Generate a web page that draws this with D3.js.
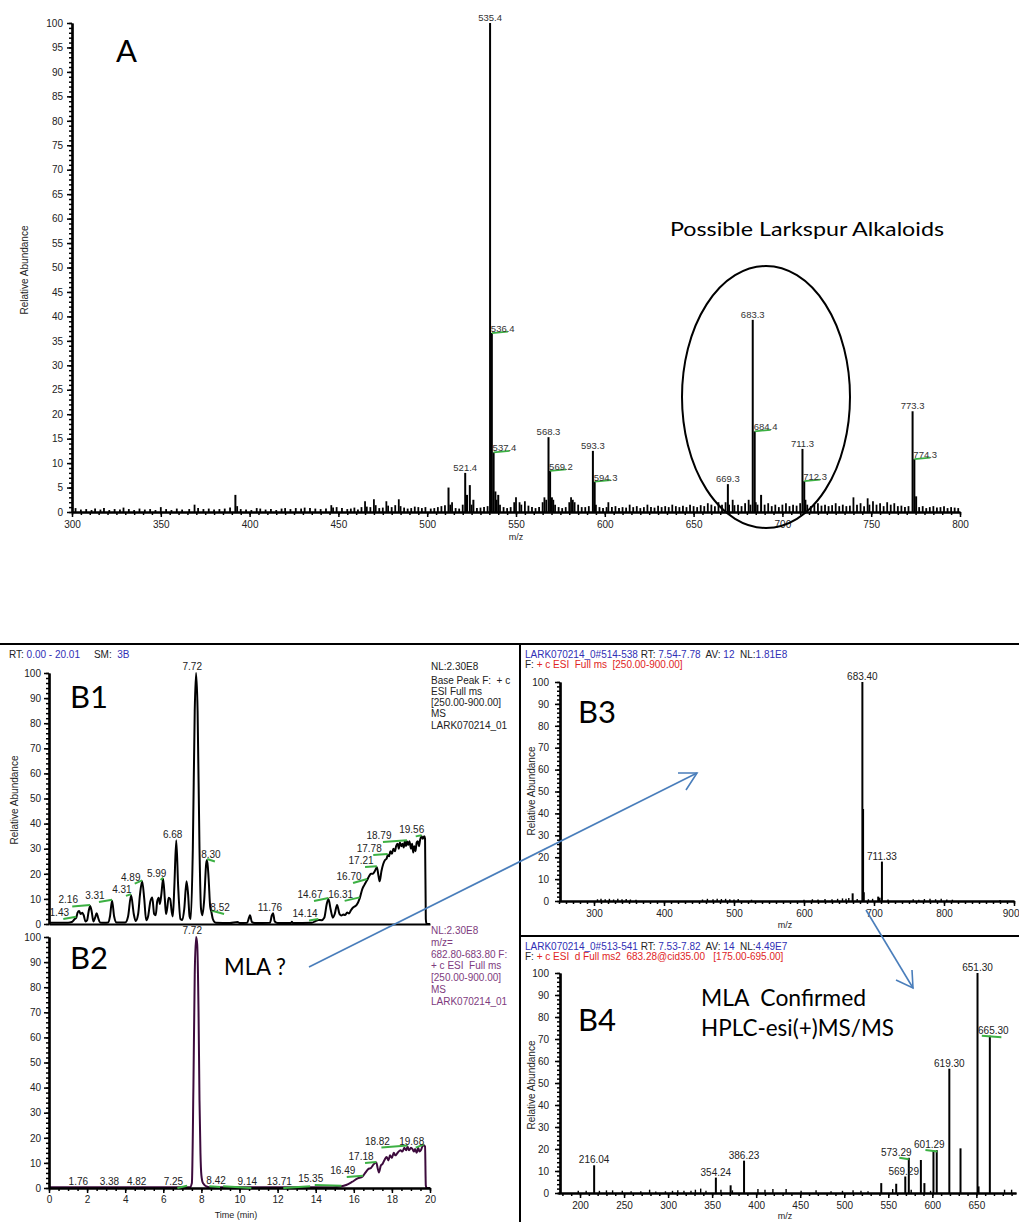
<!DOCTYPE html>
<html>
<head>
<meta charset="utf-8">
<script src="https://cdn.jsdelivr.net/npm/d3@7"></script>
<style>
  body { margin: 0; background: #fff; }
  svg { display: block; }
  text { font-family: "Liberation Sans", Arial, sans-serif; }
</style>
</head>
<body>
<div id="chart"></div>
<script>
// ---------- Panel A : full scan spectrum ----------
// main peaks [m/z, relative abundance]
const peaksA = [
  [521.4, 8], [535.4, 100], [536.4, 36.6], [537.4, 12.2], [538.4, 4.2],
  [512, 5], [522.4, 3.5], [524, 5.5], [526, 2.5], [540, 3.5], [539, 2.5],
  [568.3, 15.3], [569.2, 8.4], [570.2, 3], [593.3, 12.5], [594.3, 6.2],
  [669.3, 5.7], [683.3, 39.3], [684.4, 16.5], [688, 3.5],
  [711.3, 12.9], [712.3, 6.3], [773.3, 20.6], [774.3, 10.8], [775.3, 3.2], [392, 3.5]
];
// baseline noise sticks
const noiseA = [
  [302,0.8],[305,0.5],[308,0.6],[311,0.4],[313,0.7],[316,0.5],[318,0.8],[321,0.4],[324,0.6],[327,0.5],
  [329,0.9],[332,0.6],[335,0.4],[338,0.7],[341,0.5],[344,0.6],[347,0.4],[350,1.0],[353,0.6],[356,0.4],
  [359,0.7],[362,0.5],[366,0.6],[369,1.5],[371,0.8],[374,0.6],[377,0.7],[380,0.5],[383,0.6],[386,0.7],
  [389,0.9],[393,1.2],[395,0.6],[398,0.5],[401,0.4],[404,0.8],[406,0.7],[409,0.5],[412,0.6],[415,0.4],
  [418,0.7],[420,0.8],[423,0.6],[426,0.8],[429,0.7],[431,0.9],[434,0.8],[437,0.7],[440,0.6],[443,0.7],
  [446,1.4],[447,0.9],[449,1.0],[452,0.8],[455,0.6],[457,0.7],[459,0.9],[461,0.5],[463,1.0],[465,2.2],
  [466,1.1],[468,1.0],[470,2.6],[471,1.4],[473,0.8],[475,0.9],[477,2.2],[478,1.3],[480,1.0],[482,1.4],
  [484,2.6],[485,1.2],[487,0.9],[489,0.7],[491,0.8],[493,1.1],[495,1.0],[497,0.8],[499,1.0],[502,0.7],
  [504,0.8],[506,1.0],[508,1.2],[510,1.4],[513,1.5],[514,2.0],[516,0.8],[518,0.7],[520,1.5],[525,1.5],
  [528,0.8],[530,0.9],[532,1.0],[534,1.2],[541,1.5],[543,1.0],[545,0.8],[547,1.0],[549,2.0],[550,3.0],
  [552,2.0],[553,1.5],[555,2.2],[557,1.3],[559,1.0],[561,0.8],[563,1.0],[565,2.0],[566,3.0],[567,2.5],
  [571,2.5],[572,1.5],[574,1.0],[576,0.8],[578,1.0],[580,2.0],[581,3.0],[582,2.5],[583,2.0],[585,1.5],
  [587,1.0],[589,1.0],[591,1.2],[595,1.5],[597,1.0],[599,0.8],[601,1.0],[602,2.0],[604,1.0],[606,1.2],
  [608,0.8],[610,1.0],[612,0.9],[614,1.5],[616,1.0],[618,1.2],[620,0.8],[622,1.0],[624,1.5],[626,1.0],
  [628,0.9],[630,1.3],[632,1.0],[634,1.2],[636,1.0],[638,1.5],[640,1.2],[642,1.0],[644,1.3],[646,1.0],
  [648,1.5],[650,1.2],[652,1.0],[654,1.4],[656,1.2],[658,1.8],[660,1.5],[662,1.2],[664,2.0],[666,1.5],
  [668,2.0],[670,1.5],[672,2.5],[673,1.4],[675,1.5],[677,1.2],[679,1.8],[681,2.5],[682,1.5],[685,2.0],
  [686,1.5],[690,1.5],[692,1.8],[694,1.2],[696,1.5],[698,1.0],[700,1.5],[702,1.8],[704,1.2],[706,1.5],
  [708,1.3],[710,1.8],[713,2.5],[714,1.5],[716,1.2],[718,1.5],[720,1.8],[722,1.3],[724,1.5],[726,1.2],
  [728,1.4],[730,1.8],[732,1.2],[734,1.5],[736,1.2],[738,1.3],[740,3.0],[742,1.5],[744,1.8],[746,1.2],
  [748,2.8],[749,1.5],[751,2.2],[753,1.5],[755,1.8],[757,1.2],[759,2.0],[761,1.5],[763,1.8],[765,1.2],
  [767,1.3],[769,1.0],[771,1.2],[777,1.0],[779,1.2],[781,0.8],[783,1.0],[785,1.2],[787,0.9],[789,1.0],
  [791,1.2],[793,0.8],[795,1.0],[797,0.9],[799,0.8]
];
// labels: [m/z, abundance, placement]
const labelsA = [
  [535.4, 100, "top"], [521.4, 8, "top"], [568.3, 15.3, "top"], [593.3, 12.5, "top"],
  [669.3, 5.7, "top"], [683.3, 39.3, "top"], [711.3, 12.9, "top"], [773.3, 20.6, "top"],
  [536.4, 36.6, "side"], [537.4, 12.2, "side"], [569.2, 8.4, "side"], [594.3, 6.2, "side"],
  [684.4, 16.5, "side"], [712.3, 6.3, "side"], [774.3, 10.8, "side"]
];
const ticksA_x = [300, 350, 400, 450, 500, 550, 600, 650, 700, 750, 800];

// ---------- Panel B1 : base peak chromatogram ----------
const traceB1 = [
  [0,0.5],[1.0,0.5],[1.2,0.8],[1.35,2.0],[1.43,2.5],[1.5,4.5],[1.58,5.2],[1.66,4.0],[1.75,4.5],[1.82,3.5],
  [1.92,1.0],[2.0,1.5],[2.08,5],[2.16,7.2],[2.24,5],[2.33,1.0],[2.42,2.5],[2.5,4.3],[2.58,2.5],[2.68,0.6],
  [2.9,0.5],[3.1,0.6],[3.2,3],[3.31,9.3],[3.42,3],[3.55,0.6],[4.0,0.6],[4.15,3],[4.31,11.5],[4.45,4],
  [4.55,1.2],[4.68,4],[4.78,12],[4.89,17],[5.0,10],[5.1,1.5],[5.2,3],[5.32,9],[5.42,10.6],[5.52,4],
  [5.6,3.5],[5.68,9],[5.76,10.5],[5.82,8],[5.9,12],[5.99,18],[6.08,10],[6.14,4],[6.2,6],[6.28,10.5],
  [6.36,10],[6.44,5],[6.5,3],[6.58,15],[6.68,33.4],[6.78,15],[6.9,2],[7.0,1.6],[7.1,6],[7.22,17],
  [7.3,12],[7.38,3],[7.44,2.0],[7.55,30],[7.65,85],[7.72,100],[7.8,85],[7.9,30],[7.98,6],[8.05,3.5],
  [8.15,10],[8.25,24],[8.30,25.5],[8.38,18],[8.46,7],[8.52,5],[8.6,2],[8.75,0.5],[9.5,0.4],[9.9,0.8],
  [10.0,0.4],[10.4,0.5],[10.5,2.5],[10.55,3.5],[10.65,0.8],[10.8,0.4],[11.6,0.5],[11.7,3.5],[11.76,4.3],[11.85,1],
  [12.0,0.4],[12.7,0.4],[12.75,0.9],[12.8,0.4],[13.8,0.5],[14.0,1.2],[14.14,1.6],[14.3,1.5],[14.45,2.5],[14.58,8],
  [14.67,10],[14.78,6],[14.9,2.5],[15.0,4],[15.12,7.6],[15.25,4],[15.35,3.4],[15.45,3.8],[15.55,3.6],[15.65,4.6],
  [15.75,4.2],[15.85,5.5],[15.95,6.5],[16.05,7],[16.15,7.6],[16.31,10.2],[16.45,14],[16.55,15.5],[16.70,17.5],[16.8,19],
  [16.9,20],[17.0,20],[17.1,21],[17.21,22.6],[17.3,19],[17.36,17],[17.45,21],[17.55,24],[17.64,25.5],[17.72,26],
  [17.78,27.5],[17.85,27],[17.92,29],[18.0,28],[18.08,30],[18.16,29],[18.22,31],[18.3,32],[18.36,30],[18.42,32.5],
  [18.5,31],[18.56,32],[18.62,30.5],[18.68,33],[18.74,31],[18.79,33],[18.85,31.5],[18.92,33],[19.0,30],[19.06,32],
  [19.12,28.5],[19.18,31],[19.24,29],[19.3,32.5],[19.36,33],[19.42,31],[19.48,33.5],[19.56,35],[19.62,34],[19.7,35],
  [19.74,34],[19.78,2],[19.82,0],[20.0,0]
];
// labels: [peak time, peak abundance, label time, label level, green connector]
const labelsB1 = [
  [1.43,2.5,0.54,3.2,true],[2.16,7.2,1.01,8.2,true],[3.31,9.3,2.41,10.0,true],[4.31,11.5,3.83,12.4,true],
  [4.89,17,4.29,17.3,true],[5.99,18,5.65,18.7,true],[6.68,33.4,6.49,34.3,false],[7.72,100,7.52,101.2,false],
  [8.30,25.5,8.50,26.1,true],[8.52,5,8.98,5.2,true],[11.76,4.3,11.6,5.2,false],[14.14,1.6,13.44,2.6,true],
  [14.67,10,13.70,10.4,true],[16.31,10.2,15.31,10.4,true],[16.70,17.5,15.75,17.5,true],[17.21,22.6,16.38,23.9,true],
  [17.78,27.5,16.81,28.7,true],[18.79,33,17.32,33.9,true],[19.56,35,19.04,36.1,true]
];
const infoB1 = ["NL:2.30E8", "Base Peak F:  + c", "ESI Full ms", "[250.00-900.00]", "MS", "LARK070214_01"];

// ---------- Panel B2 : m/z 682.8-683.8 extracted chromatogram ----------
const traceB2 = [
  [0,0.3],[7.4,0.3],[7.5,2],[7.58,40],[7.65,85],[7.72,100],[7.78,97],[7.85,70],[7.9,35],[7.95,14],
  [8.0,5],[8.08,2],[8.3,0.5],[8.5,0.2],[9,0.3],[14.9,0.3],[15.3,0.6],[15.6,1.2],[15.9,2.4],[16.2,3.8],
  [16.45,4.5],[16.6,6],[16.75,7.5],[16.9,8],[17.05,9.5],[17.18,10.2],[17.25,8],[17.32,6.2],[17.42,9],[17.5,9.5],
  [17.62,11.3],[17.72,12.4],[17.82,11],[17.9,13],[18.0,12],[18.1,14],[18.18,13],[18.25,13.5],[18.35,14.5],[18.45,15],
  [18.55,14.5],[18.65,16],[18.75,15],[18.82,16.5],[18.9,15],[19.0,16],[19.08,15.5],[19.15,14.5],[19.22,15.5],[19.3,14],
  [19.38,16],[19.45,14.5],[19.52,15],[19.6,16.5],[19.68,17],[19.74,16.5],[19.78,1],[19.82,0],[20,0]
];
const labelsB2 = [
  [1.76,0,1.54,1.2,false],[3.38,0,3.17,1.2,false],[4.82,0,4.6,1.2,false],[7.25,0.5,6.53,1.2,true],
  [7.72,100,7.52,101.2,false],[8.42,0.3,8.77,1.6,true],[9.14,0.3,10.41,1.2,true],[13.71,0.3,12.09,1.2,true],
  [15.35,0.5,13.74,2.4,true],[16.49,4.5,15.42,5.6,true],[17.18,10,16.38,11.2,true],[18.82,16.5,17.24,17.3,true],
  [19.68,17,19.04,17.3,true]
];
const infoB2 = ["NL:2.30E8", "m/z=", "682.80-683.80 F:", "+ c ESI  Full ms", "[250.00-900.00]", "MS", "LARK070214_01"];
const ticksTime = [0, 2, 4, 6, 8, 10, 12, 14, 16, 18, 20];

// ---------- Panel B3 : MS spectrum at 7.54-7.78 min ----------
const peaksB3 = [[669.5,3.5],[683.40,100],[684.4,42],[685.4,4],[706,2],[708,1.5],[711.33,18]];
const noiseB3 = [
  [305,0.8],[310,1],[316,0.8],[322,1],[328,0.7],[334,1],[340,0.8],[346,0.9],[352,0.7],[360,0.6],
  [455,0.7],[462,1],[470,0.8],[476,1],[482,0.9],[488,1],[494,0.8],[500,0.7],[506,0.9],[525,0.6],
  [600,0.6],[612,0.8],[620,0.7],[630,0.9],[640,0.8],[648,1],[655,1.2],[660,1],[664,1.4],[676,0.9],
  [692,0.8],[698,1],[720,0.7],[756,0.8],[764,0.6],[772,0.9],[780,1],[788,0.8],[796,1],[804,0.7],[812,0.6],[880,0.5]
];
const labelsB3 = [[683.40,100,"683.40"],[711.33,18,"711.33"]];
const ticksB3_x = [300, 400, 500, 600, 700, 800, 900];

// ---------- Panel B4 : MS/MS of 683.28 ----------
const peaksB4 = [
  [216.04,12.6],[354.24,7],[371,3.5],[386.23,14.7],[542,4.5],[559,4.2],[569.29,7.5],[573.29,16],
  [587,15],[591,4.5],[601.29,19.5],[605,19.5],[619.30,56.5],[632,20.3],[651.30,100],[652.5,3],[665.30,71.5]
];
const noiseB4 = [
  [198,1],[207,1],[222,1],[230,1.2],[237,1.2],[248,1],[258,0.8],[269,0.8],[279,1.5],[286,0.7],
  [297,0.8],[305,1],[311,1.2],[318,1],[326,1],[331,1.5],[337,2],[343,1],[360,1.5],[373,1.2],
  [402,1.8],[410,1.5],[419,1.8],[434,1.8],[451,1],[468,1.2],[485,0.8],[498,1],[510,1.2],[519,1],
  [527,0.8],[555,1.8],[576,1.5],[598,1],[682,1.5],[690,1.5]
];
// labels: [m/z, abundance, label centre m/z, green connector]
const labelsB4 = [
  [216.04,12.6,216.04,false],[354.24,7,354.24,false],[386.23,14.7,386.23,false],[569.29,7.5,567.5,false],
  [573.29,16,559.1,true],[601.29,19.5,596.6,true],[619.30,56.5,619.30,false],[651.30,100,651.30,false],
  [665.30,71.5,669.3,true]
];
const ticksB4_x = [200, 250, 300, 350, 400, 450, 500, 550, 600, 650];

const GREEN = "#3cb043";
const BLUE_TXT = "#2f2fb5";
const RED_TXT = "#e02424";
const PURPLE_TXT = "#7e3b7e";
const ARROW = "#4a7ebb";

const svg = d3.select("#chart").append("svg")
  .attr("width", 1019)
  .attr("height", 1222);

// Scales
const xA = d3.scaleLinear().domain([300, 800]).range([72, 960]);
const yA = d3.scaleLinear().domain([0, 100]).range([512, 23]);
const xT = d3.scaleLinear().domain([0, 20]).range([49, 430]);
const yB1 = d3.scaleLinear().domain([0, 100]).range([924, 673]);
const yB2 = d3.scaleLinear().domain([0, 100]).range([1188, 937]);
const xB3 = d3.scaleLinear().domain([250, 900]).range([559, 1014]);
const yB3 = d3.scaleLinear().domain([0, 100]).range([901, 682]);
const xB4 = d3.scaleLinear().domain([175, 695]).range([558, 1016]);
const yB4 = d3.scaleLinear().domain([0, 100]).range([1193, 973]);

function styleAxis(g) {
  g.selectAll(".domain").attr("stroke-width", 2.2).attr("stroke", "#000");
  g.selectAll(".tick line").attr("stroke-width", 1.5).attr("stroke", "#000");
  g.selectAll("text").attr("font-size", 10).attr("fill", "#222")
    .attr("font-family", "'Liberation Sans', Arial, sans-serif");
}

function drawYAxis(y, x0, majorStep, minorStep, pad) {
  const g = svg.append("g").attr("transform", `translate(${x0},0)`);
  g.append("g").call(d3.axisLeft(y).tickValues(d3.range(0, 100.1, minorStep))
    .tickSize(3).tickSizeOuter(0).tickFormat(""));
  g.append("g").call(d3.axisLeft(y).tickValues(d3.range(0, 100.1, majorStep))
    .tickSize(5).tickSizeOuter(0).tickPadding(pad));
  styleAxis(g);
}

function drawXAxis(x, y0, majors, minorStep, pad, fmt) {
  const g = svg.append("g").attr("transform", `translate(0,${y0})`);
  const [d0, d1] = x.domain();
  if (minorStep) {
    g.append("g").call(d3.axisBottom(x)
      .tickValues(d3.range(Math.ceil(d0 / minorStep) * minorStep, d1 + 0.01, minorStep))
      .tickSize(3).tickSizeOuter(0).tickFormat(""));
  }
  g.append("g").call(d3.axisBottom(x).tickValues(majors)
    .tickSize(majors.length ? 5 : 0).tickSizeOuter(0).tickPadding(pad).tickFormat(fmt || d3.format("d")));
  styleAxis(g);
  return g;
}

function drawSticks(data, x, y, width) {
  svg.append("g").selectAll("line").data(data).join("line")
    .attr("x1", d => x(d[0])).attr("x2", d => x(d[0]))
    .attr("y1", y(0)).attr("y2", d => y(d[1]))
    .attr("stroke", "#000").attr("stroke-width", width);
}

function yTitle(cx, cy) {
  svg.append("text")
    .attr("transform", `translate(${cx},${cy}) rotate(-90)`)
    .attr("text-anchor", "middle").attr("font-size", 10).attr("fill", "#222")
    .text("Relative Abundance");
}

function plainText(x, y, str, size, opts) {
  const t = svg.append("text").attr("x", x).attr("y", y)
    .attr("font-size", size).attr("fill", (opts && opts.fill) || "#000")
    .style("white-space", "pre").text(str);
  if (opts && opts.anchor) t.attr("text-anchor", opts.anchor);
  if (opts && opts.family) t.style("font-family", opts.family);
  if (opts && opts.len) t.attr("textLength", opts.len).attr("lengthAdjust", "spacingAndGlyphs");
  return t;
}

function colouredLine(x, y, parts) {
  const t = svg.append("text").attr("x", x).attr("y", y).attr("font-size", 10)
    .style("white-space", "pre");
  parts.forEach(p => t.append("tspan").attr("fill", p[1]).text(p[0]));
}

// ---------- Frame lines ----------
svg.append("line").attr("x1", 0).attr("x2", 1019).attr("y1", 644).attr("y2", 644)
  .attr("stroke", "#000").attr("stroke-width", 2);
svg.append("line").attr("x1", 520).attr("x2", 520).attr("y1", 644).attr("y2", 1222)
  .attr("stroke", "#000").attr("stroke-width", 2);
svg.append("line").attr("x1", 520).attr("x2", 1019).attr("y1", 936).attr("y2", 936)
  .attr("stroke", "#000").attr("stroke-width", 2);

// ---------- Panel A ----------
drawSticks(noiseA, xA, yA, 1.8);
drawSticks(peaksA, xA, yA, 2);
drawYAxis(yA, 72, 5, 1, 4);
drawXAxis(xA, 512, ticksA_x, 5, 4);
yTitle(28, 270);
plainText(516, 540, "m/z", 9, { anchor: "middle", fill: "#222" });

labelsA.forEach(d => {
  const px = xA(d[0]), py = yA(d[1]);
  if (d[2] === "top") {
    plainText(px, py - 2, d[0].toFixed(1), 9.5, { anchor: "middle", fill: "#333" });
  } else {
    svg.append("line").attr("x1", px).attr("x2", px + 16).attr("y1", py).attr("y2", py - 1.5)
      .attr("stroke", GREEN).attr("stroke-width", 1.8);
    plainText(px - 1, py - 1, d[0].toFixed(1), 9.5, { fill: "#333" });
  }
});

plainText(116, 62, "A", 31, { family: "Lato, 'Open Sans', sans-serif" });
plainText(670, 236, "Possible Larkspur Alkaloids", 20, { family: "Lato, 'Open Sans', sans-serif", len: 274 });
svg.append("ellipse").attr("cx", 766).attr("cy", 397).attr("rx", 84).attr("ry", 131)
  .attr("fill", "none").attr("stroke", "#000").attr("stroke-width", 2);

// ---------- Chromatogram helpers ----------
function drawTrace(data, y, colour) {
  svg.append("path").datum(data)
    .attr("fill", "none").attr("stroke", colour).attr("stroke-width", 2)
    .attr("stroke-linejoin", "round")
    .attr("d", d3.line().x(d => xT(d[0])).y(d => y(d[1])).curve(d3.curveMonotoneX));
}

function chromLabels(labels, y) {
  labels.forEach(d => {
    const lx = xT(d[2]), ly = y(d[3]);
    if (d[4]) {
      svg.append("line").attr("x1", lx + 4).attr("y1", ly + 3)
        .attr("x2", xT(d[0])).attr("y2", y(d[1]) - 1)
        .attr("stroke", GREEN).attr("stroke-width", 2);
    }
    plainText(lx, ly, d[0].toFixed(2), 10, { anchor: "middle", fill: "#222" });
  });
}

// ---------- Panel B1 ----------
colouredLine(9, 658, [["RT: ", "#222"], ["0.00 - 20.01", BLUE_TXT], ["     SM:  ", "#222"], ["3B", BLUE_TXT]]);
drawTrace(traceB1, yB1, "#000");
drawYAxis(yB1, 49, 10, 2, 3);
drawXAxis(xT, 924, [], 0, 0);
chromLabels(labelsB1, yB1);
yTitle(18, 800);
infoB1.forEach((s, i) => plainText(431, [670, 683.5, 695, 706, 717, 729][i], s, 10, { fill: "#222" }));
plainText(70, 708, "B1", 31, { family: "Lato, 'Open Sans', sans-serif" });

// ---------- Panel B2 ----------
drawTrace(traceB2, yB2, "#3d0b3d");
drawYAxis(yB2, 49, 10, 2, 3);
drawXAxis(xT, 1188, ticksTime, 0.5, 3);
chromLabels(labelsB2, yB2);
plainText(236, 1218, "Time (min)", 9, { anchor: "middle", fill: "#222" });
infoB2.forEach((s, i) => plainText(431, 934 + i * 11.8, s, 10, { fill: PURPLE_TXT }));
plainText(70, 969, "B2", 31, { family: "Lato, 'Open Sans', sans-serif" });
plainText(224, 975, "MLA ?", 23, { family: "Lato, 'Open Sans', sans-serif", len: 62 });

// ---------- Panel B3 ----------
colouredLine(525, 658, [["LARK070214_0#514-538", BLUE_TXT], [" RT: ", "#222"], ["7.54-7.78", BLUE_TXT],
  ["  AV: ", "#222"], ["12", BLUE_TXT], ["  NL:", "#222"], ["1.81E8", BLUE_TXT]]);
colouredLine(525, 668, [["F: ", "#222"], ["+ c ESI  Full ms  [250.00-900.00]", RED_TXT]]);
drawSticks(noiseB3, xB3, yB3, 1.4);
drawSticks(peaksB3, xB3, yB3, 2);
drawYAxis(yB3, 560, 10, 2, 6);
const axB3 = drawXAxis(xB3, 901, ticksB3_x, 10, 4);
// the last tick label sits at the right edge; keep it inside the picture
axB3.selectAll(".tick text").filter(d => d === 900).attr("text-anchor", "end").attr("dx", 5);
labelsB3.forEach(d => plainText(xB3(d[0]), yB3(d[1]) - 2, d[2], 10, { anchor: "middle", fill: "#222" }));
yTitle(535, 791);
plainText(785, 928, "m/z", 9, { anchor: "middle", fill: "#222" });
plainText(578, 723, "B3", 31, { family: "Lato, 'Open Sans', sans-serif" });

// ---------- Panel B4 ----------
colouredLine(525, 950, [["LARK070214_0#513-541", BLUE_TXT], [" RT: ", "#222"], ["7.53-7.82", BLUE_TXT],
  ["  AV: ", "#222"], ["14", BLUE_TXT], ["  NL:", "#222"], ["4.49E7", BLUE_TXT]]);
colouredLine(525, 960, [["F: ", "#222"], ["+ c ESI  d Full ms2  683.28@cid35.00   [175.00-695.00]", RED_TXT]]);
drawSticks(noiseB4, xB4, yB4, 1.4);
drawSticks(peaksB4, xB4, yB4, 2);
drawYAxis(yB4, 560, 10, 2, 6);
drawXAxis(xB4, 1193, ticksB4_x, 10, 4);
labelsB4.forEach(d => {
  const lx = xB4(d[2]), py = yB4(d[1]);
  if (d[3]) {
    svg.append("line").attr("x1", Math.min(lx + 3, xB4(d[0]) - 8)).attr("y1", py)
      .attr("x2", Math.max(xB4(d[0]), lx + 8)).attr("y2", py + 1.5)
      .attr("stroke", GREEN).attr("stroke-width", 2);
  }
  plainText(lx, py - 2, d[0].toFixed(2), 10, { anchor: "middle", fill: "#222" });
});
yTitle(535, 1085);
plainText(785, 1219, "m/z", 9, { anchor: "middle", fill: "#222" });
plainText(578, 1031, "B4", 31, { family: "Lato, 'Open Sans', sans-serif" });
plainText(701, 1006, "MLA  Confirmed", 23, { family: "Lato, 'Open Sans', sans-serif", len: 165 });
plainText(701, 1036, "HPLC-esi(+)MS/MS", 23, { family: "Lato, 'Open Sans', sans-serif", len: 193 });

// ---------- Annotation arrows ----------
function arrow(x1, y1, x2, y2, h1, h2) {
  const g = svg.append("g").attr("stroke", ARROW).attr("stroke-width", 1.6).attr("fill", "none");
  g.append("line").attr("x1", x1).attr("y1", y1).attr("x2", x2).attr("y2", y2);
  g.append("polyline").attr("points", `${h1[0]},${h1[1]} ${x2},${y2} ${h2[0]},${h2[1]}`);
}
arrow(309, 967, 697, 773, [678, 773], [686, 790]);
arrow(866, 910, 913, 988, [896, 980], [912, 970]);
</script>
</body>
</html>
